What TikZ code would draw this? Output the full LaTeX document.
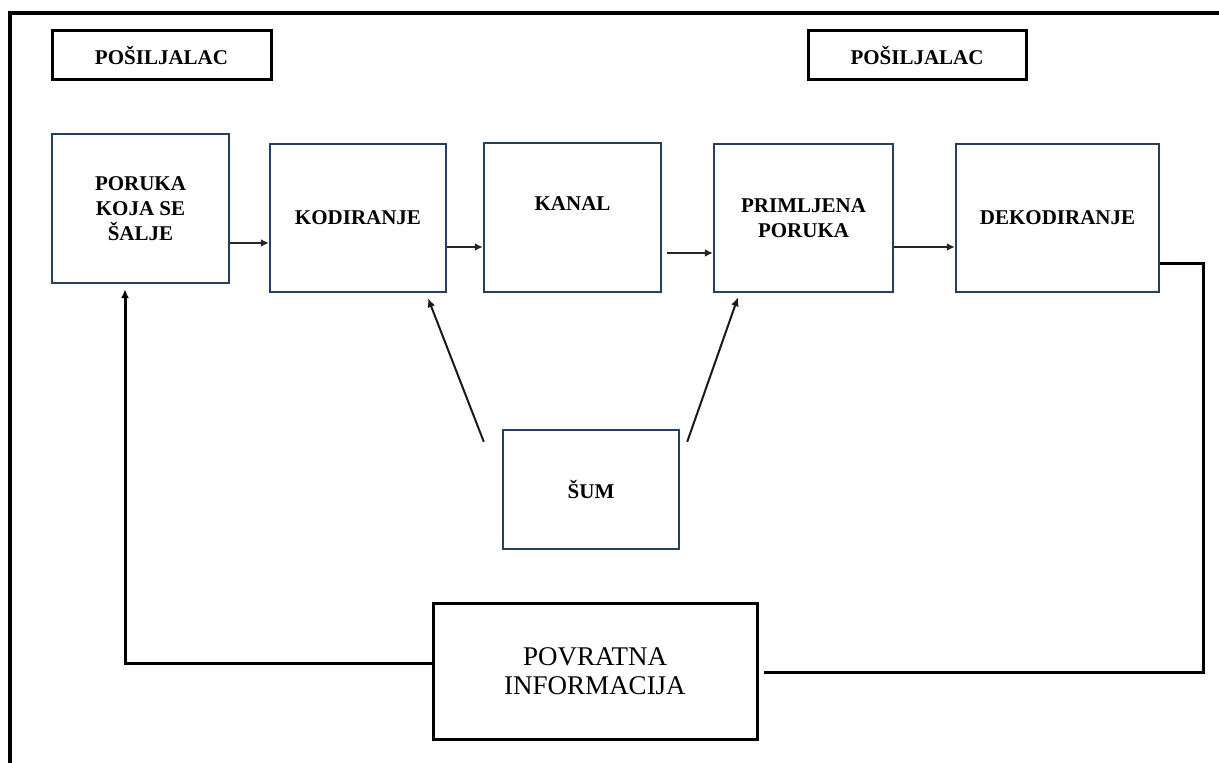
\documentclass[tikz,border=0pt]{standalone}
\usepackage{fontspec}
\setmainfont{Liberation Serif}
\usetikzlibrary{arrows.meta}
\definecolor{boxblue}{RGB}{38,64,96}
\tikzset{
  blockbox/.style={draw=boxblue, line width=1.2pt, inner sep=0pt, align=center,
    font=\fontsize{10.5}{12.5}\selectfont\bfseries},
  rolebox/.style={draw=black, line width=1.5pt, inner sep=0pt, align=center,
    font=\fontsize{10.5}{12.5}\selectfont\bfseries},
  bigbox/.style={draw=black, line width=1.5pt, inner sep=0pt, align=center,
    font=\fontsize{13.5}{14.5}\selectfont},
  flow/.style={line width=1.2pt, draw=black!85, -{Latex[length=4pt,width=4pt]}},
  noise/.style={line width=1pt, draw=black!90, -{Latex[length=4.5pt,width=4pt]}},
  back/.style={line width=1.5pt, draw=black},
  frame/.style={line width=1.6pt, draw=black}
}
\begin{document}
\begin{tikzpicture}[x=0.5pt,y=-0.5pt]
\useasboundingbox (0,0) rectangle (1219,763);

% outer frame (top and left edges only)
\draw[frame] (10,763) -- (10,13) -- (1219,13);

% role labels
\node[rolebox, minimum width=109.5pt, minimum height=24.5pt] (sender1) at (161.5,55.5) {POŠILJALAC};
\node[rolebox, minimum width=109pt, minimum height=24.5pt] (sender2) at (917,55.5) {POŠILJALAC};

% main chain
\node[blockbox, minimum width=88.5pt, minimum height=74.5pt] (poruka) at (140.5,208.5) {PORUKA\\KOJA SE\\ŠALJE};
\node[blockbox, minimum width=88pt, minimum height=74pt] (kodiranje) at (358,218) {KODIRANJE};
\node[blockbox, minimum width=88.5pt, minimum height=74.5pt,
      label={[font=\fontsize{10.5}{12.5}\selectfont\bfseries, inner sep=0pt, yshift=6.8pt]center:KANAL}] (kanal) at (572.5,217.5) {};
\node[blockbox, minimum width=89.5pt, minimum height=74pt] (primljena) at (803.5,218) {PRIMLJENA\\PORUKA};
\node[blockbox, minimum width=101.5pt, minimum height=74pt] (dekodiranje) at (1057.5,218) {DEKODIRANJE};

% noise
\node[blockbox, minimum width=88pt, minimum height=59.5pt] (sum) at (591,489.5) {ŠUM};

% feedback
\node[bigbox, minimum width=162pt, minimum height=68pt] (povratna) at (595,671) {POVRATNA\\INFORMACIJA};

% forward arrows
\draw[flow] ([shift={(0,34.5)}]poruka.east) -- ([shift={(0,25)}]kodiranje.west);
\draw[flow] ([shift={(0,29)}]kodiranje.east) -- ([shift={(0,29.5)}]kanal.west);
\draw[flow] ([shift={(5,35.5)}]kanal.east) -- ([shift={(0,35)}]primljena.west);
\draw[flow] ([shift={(0,29)}]primljena.east) -- ([shift={(0,29)}]dekodiranje.west);

% noise arrows
\draw[noise] ([shift={(-18,13)}]sum.north west) -- ([shift={(70,5)}]kodiranje.south);
\draw[noise] ([shift={(7,13)}]sum.north east) -- ([shift={(-65.5,4)}]primljena.south);

% feedback loop
\coordinate (rc) at (1203,672);
\coordinate (lc) at (125,663);
\draw[back] ([shift={(0,46)}]dekodiranje.east) -| (rc) -- ([shift={(5,1)}]povratna.east);
\draw[back, -{Latex[length=4.5pt,width=4pt]}] (povratna.west |- lc) -- (lc) -- ([shift={(-15.5,5)}]poruka.south);
\end{tikzpicture}
\end{document}
